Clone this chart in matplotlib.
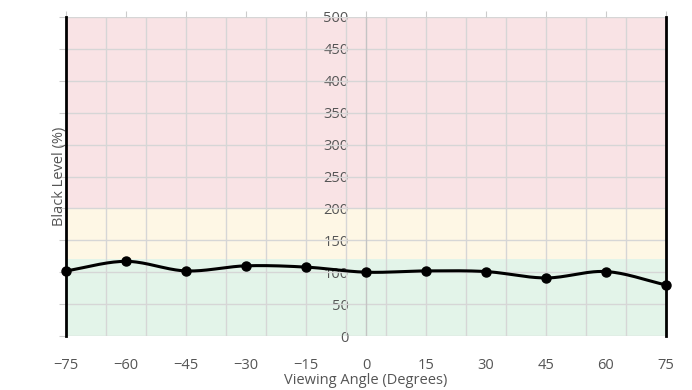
import numpy as np
import matplotlib.pyplot as plt

plt.rcParams['font.family'] = ['Open Sans', 'DejaVu Sans']

# viewing angle measurements
angles = [-75, -60, -45, -30, -15, 0, 15, 30, 45, 60, 75]
black_level = [102, 117, 102, 110, 108, 100, 102, 101, 91, 101, 80]

# background bands (lower, upper, colour)
band_edges = [0, 120, 200, 500]
band_colors = ['#e3f4e9', '#fef7e5', '#f9e3e5']

x_ticks = [-75, -60, -45, -30, -15, 0, 15, 30, 45, 60, 75]
y_ticks = [0, 50, 100, 150, 200, 250, 300, 350, 400, 450, 500]
grid_x = [-65, -55, -45, -35, -25, -15, -5, 5, 15, 25, 35, 45, 55, 65]


def smooth(xs, ys, n=30):
    # catmull-rom curve through the points
    xs = np.asarray(xs, float)
    ys = np.asarray(ys, float)
    px = np.concatenate([[2 * xs[0] - xs[1]], xs, [2 * xs[-1] - xs[-2]]])
    py = np.concatenate([[2 * ys[0] - ys[1]], ys, [2 * ys[-1] - ys[-2]]])
    out_x, out_y = [], []
    t = np.linspace(0, 1, n)
    for i in range(1, len(px) - 2):
        for p, out in ((px, out_x), (py, out_y)):
            p0, p1, p2, p3 = p[i - 1], p[i], p[i + 1], p[i + 2]
            out.extend(0.5 * ((2 * p1) + (-p0 + p2) * t
                              + (2 * p0 - 5 * p1 + 4 * p2 - p3) * t ** 2
                              + (-p0 + 3 * p1 - 3 * p2 + p3) * t ** 3))
    return np.array(out_x), np.array(out_y)


fig = plt.figure(figsize=(6.92, 3.9), dpi=100)
ax = fig.add_axes([66 / 692, 54 / 390, 600 / 692, 319 / 390])

for lo, hi, c in zip(band_edges[:-1], band_edges[1:], band_colors):
    ax.axhspan(lo, hi, color=c, lw=0, zorder=0)

for y in y_ticks:
    ax.axhline(y, color='#d6d6d6', lw=1, zorder=1)
for x in grid_x:
    ax.axvline(x, color='#d6d6d6', lw=1, zorder=1)
ax.axvline(0, color='#c4c4c4', lw=1, zorder=1)

sx, sy = smooth(angles, black_level)
ax.plot(sx, sy, color='black', lw=2.2, zorder=3, solid_capstyle='round')
ax.plot(angles, black_level, 'o', color='black', ms=6.5, zorder=4, clip_on=False)

ax.set_xlim(-75, 75)
ax.set_ylim(0, 500)
ax.set_xticks(x_ticks)
ax.set_yticks(y_ticks)
ax.set_yticklabels([])
ax.tick_params(axis='x', bottom=False, top=True, labelbottom=True,
               length=4, color='#cccccc', labelsize=10.5, labelcolor='#555555', pad=12)
ax.tick_params(axis='y', left=True, length=5, color='#cccccc')

for s in ['top', 'bottom']:
    ax.spines[s].set_visible(False)
for s in ['left', 'right']:
    ax.spines[s].set_color('black')
    ax.spines[s].set_linewidth(2)

sec = ax.secondary_yaxis(0.5)
sec.set_yticks(y_ticks)
for s in sec.spines.values():
    s.set_visible(False)
sec.tick_params(left=False, right=False, labelleft=True, labelright=False,
                pad=9, labelsize=10.5, labelcolor='#555555')

ax.set_xlabel('Viewing Angle (Degrees)', fontsize=10.5, color='#555555', labelpad=0)
ax.set_ylabel('Black Level (%)', fontsize=10.5, color='#555555', labelpad=-9)

fig.savefig('out.png', dpi=100)
